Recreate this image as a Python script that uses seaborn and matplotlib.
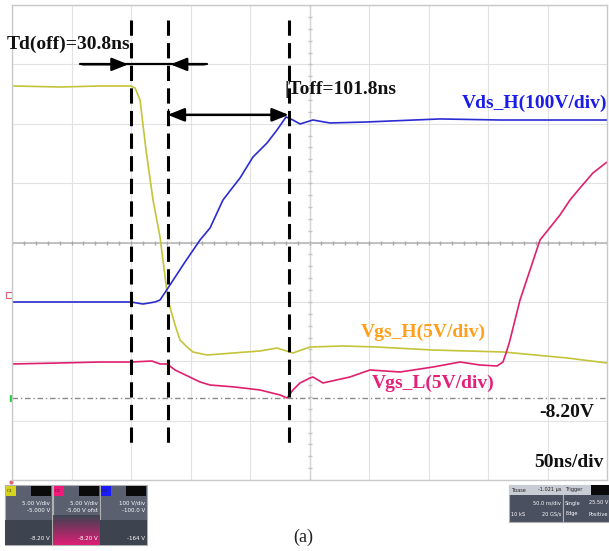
import matplotlib
matplotlib.use("Agg")
import matplotlib.pyplot as plt
import numpy as np
import pandas as pd
import seaborn as sns
from matplotlib.patches import Rectangle

# ---------------------------
# Datos (tiempo en ns, amplitud en divisiones de pantalla)
# ---------------------------
t_vgs_h = [0, 40.3, 73.9, 100.0, 103.4, 107.6, 112.6, 118.5, 124.4, 131.1, 137.0, 141.2,
           147.1, 152.1, 163.9, 185.7, 208.4, 222.7, 236.1, 250.4, 278.2, 306.7, 353.8,
           412.6, 466.4, 500.0]
v_vgs_h = [6.636, 6.619, 6.636, 6.636, 6.602, 6.400, 5.558, 4.716, 4.093, 3.032, 2.611, 2.358,
           2.240, 2.156, 2.105, 2.139, 2.173, 2.223, 2.139, 2.240, 2.257, 2.240, 2.189,
           2.156, 2.055, 1.971]

t_vds_h = [0, 40.3, 73.9, 100.0, 110.1, 120.2, 124.4, 131.1, 145.4, 158.0, 166.4, 177.3,
           185.7, 191.6, 202.5, 214.3, 222.7, 230.3, 236.1, 242.0, 252.9, 267.2, 298.3,
           359.7, 410.1, 500.0]
v_vds_h = [2.998, 2.998, 2.998, 2.998, 2.964, 2.998, 3.032, 3.234, 3.672, 4.042, 4.244, 4.716,
           4.935, 5.086, 5.440, 5.676, 5.895, 6.114, 6.063, 5.996, 6.063, 6.013, 6.030,
           6.081, 6.063, 6.063]

t_vgs_l = [0, 40.3, 73.9, 100.0, 117.6, 124.4, 130.3, 137.0, 158.0, 166.4, 187.4, 208.4,
           225.2, 231.1, 236.1, 242.0, 250.4, 252.9, 261.3, 284.0, 300.8, 326.1, 353.8,
           376.5, 393.3, 407.6, 412.6, 416.0, 418.5, 422.7, 426.9, 435.3, 443.7, 460.5,
           468.9, 477.3, 488.2, 500.0]
v_vgs_l = [1.954, 1.971, 1.987, 1.987, 2.004, 1.954, 1.954, 1.853, 1.651, 1.600, 1.566, 1.516,
           1.432, 1.381, 1.516, 1.634, 1.718, 1.735, 1.634, 1.735, 1.853, 1.819, 1.903,
           1.987, 1.937, 1.920, 1.987, 2.189, 2.358, 2.695, 3.032, 3.537, 4.042, 4.463,
           4.716, 4.918, 5.171, 5.356]

t_marcas = [100.0, 130.8, 232.6]   # cursores verticales
nivel_ref = 1.381                  # linea -8.20V

sns.set_style("white")
plt.rcParams['font.family'] = ['Liberation Serif', 'DejaVu Serif']

fig = plt.figure(figsize=(6.09, 5.51), dpi=100)

# capa de fondo en pixeles para los paneles del osciloscopio
bg = fig.add_axes([0, 0, 1, 1])
bg.set_xlim(0, 609)
bg.set_ylim(551, 0)
bg.axis('off')

ax = fig.add_axes([12 / 609, 71 / 551, 595 / 609, 475 / 551])
ax.set_xlim(0, 500)
ax.set_ylim(0, 8)
ax.set_xticks(np.arange(0, 501, 50))
ax.set_yticks(np.arange(0, 9, 1))
ax.set_xticklabels([])
ax.set_yticklabels([])
ax.tick_params(length=0)
ax.grid(True, color='#e2e2e2', lw=0.8)
for s in ax.spines.values():
    s.set_color('#c9c9c9')
    s.set_linewidth(1.0)

# ejes centrales con subdivisiones
ax.axhline(4, color='#b4b4b4', lw=1.1, zorder=1)
ax.axvline(250, color='#d4d4d4', lw=1.0, zorder=1)
ax.plot(np.arange(0, 501, 10), [4] * 51, ls='none', marker='|', ms=3, color='#a8a8a8', zorder=1)
ax.plot([250] * 41, np.arange(0, 8.01, 0.2), ls='none', marker='_', ms=3, color='#c4c4c4', zorder=1)

# linea de referencia
ax.axhline(nivel_ref, color='#8a8a8a', lw=1.0, ls=(0, (4, 2, 1, 2)), zorder=1)

df_h = pd.DataFrame({'t': t_vgs_h, 'v': v_vgs_h})
df_d = pd.DataFrame({'t': t_vds_h, 'v': v_vds_h})
df_l = pd.DataFrame({'t': t_vgs_l, 'v': v_vgs_l})
sns.lineplot(data=df_h, x='t', y='v', ax=ax, color='#c4c43a', lw=1.2, sort=False, estimator=None)
sns.lineplot(data=df_d, x='t', y='v', ax=ax, color='#2b2bd2', lw=1.2, sort=False, estimator=None)
sns.lineplot(data=df_l, x='t', y='v', ax=ax, color='#e0206e', lw=1.2, sort=False, estimator=None)
ax.set_xlabel('')
ax.set_ylabel('')

# cursores discontinuos
for tm in t_marcas:
    ax.plot([tm, tm], [7.75, 0.62], color='black', lw=2.2, ls=(0, (5, 2.4)), zorder=5)

# flechas Td(off)
ax.plot([57, 164], [7.0, 7.0], color='black', lw=1.6, zorder=6)
ax.annotate('', xy=(t_marcas[0], 7.0), xytext=(57, 7.0),
            arrowprops=dict(arrowstyle='-|>,head_length=1.0,head_width=0.4', color='black', lw=1.6))
ax.annotate('', xy=(t_marcas[1], 7.0), xytext=(164, 7.0),
            arrowprops=dict(arrowstyle='-|>,head_length=1.0,head_width=0.4', color='black', lw=1.6))
# flecha Toff
ax.annotate('', xy=(t_marcas[2], 6.15), xytext=(t_marcas[1], 6.15),
            arrowprops=dict(arrowstyle='<|-|>,head_length=1.0,head_width=0.4', color='black', lw=1.8,
                            shrinkA=0, shrinkB=0))
ax.plot([t_marcas[1], t_marcas[1]], [6.25, 6.0], color='black', lw=1.0, zorder=6)

bold = dict(fontweight='bold', fontsize=14)
ax.text(-4.2, 7.34, 'Td(off)=30.8ns', ha='left', va='center', color='#111111', clip_on=False, **bold)
ax.text(229, 6.57, '|Toff=101.8ns', ha='left', va='center', color='#111111', **bold)
ax.text(500, 6.35, 'Vds_H(100V/div)', ha='right', va='center', color='#1c1ce8', **bold)
ax.text(293, 2.49, 'Vgs_H(5V/div)', ha='left', va='center', color='#ff9f1a', **bold)
ax.text(302, 1.62, 'Vgs_L(5V/div)', ha='left', va='center', color='#e3207a', **bold)
ax.text(443, 1.145, '-8.20V', ha='left', va='center', color='#111111', **bold)
ax.text(497, 0.29, '50ns/div', ha='right', va='center', color='#111111', **bold)

# marcadores de canal a la izquierda
bg.plot([13], [398], marker='>', ms=4, color='#22cc44', zorder=3)
bg.add_patch(Rectangle((6, 292), 6, 6, fill=False, ec='#e0607a', lw=0.8))
bg.plot([11], [482], marker='o', ms=2, color='#e0607a')

# paneles de canales
canales = [('C1', '#d6d21e', '5.00 V/div', '-5.000 V', '-8.20 V'),
           ('C2', '#f01a7a', '5.00 V/div', '-5.00 V ofst', '-8.20 V'),
           ('C3', '#1a1aff', '100 V/div', '-100.0 V', '-164 V')]
x0 = 5
for i, (nom, col, l1, l2, l3) in enumerate(canales):
    xa = x0 + i * 47.5
    bg.add_patch(Rectangle((xa, 485), 47, 60, fc='#5a6070', ec='#b0b0b0', lw=0.8))
    bg.add_patch(Rectangle((xa, 520), 47, 25, fc='#3e4350', ec='none'))
    if i == 1:
        grad = np.linspace(0, 1, 30)[:, None] * np.ones((1, 10))
        bg.imshow(grad, extent=(xa, xa + 47, 545, 515), cmap=sns.blend_palette(['#3e4350', '#f01a7a'], as_cmap=True),
                  aspect='auto', alpha=0.9, zorder=2)
    bg.add_patch(Rectangle((xa + 1, 486), 10, 10, fc=col, ec='none', zorder=3))
    bg.add_patch(Rectangle((xa + 26, 486), 20, 10, fc='#0a0a0a', ec='none', zorder=3))
    bg.text(xa + 2, 491, nom, fontsize=3.5, color='#222222', va='center', zorder=4)
    bg.text(xa + 45, 503, l1, fontsize=4, color='white', ha='right', va='center', family='DejaVu Sans', zorder=4)
    bg.text(xa + 45, 511, l2, fontsize=4, color='white', ha='right', va='center', family='DejaVu Sans', zorder=4)
    bg.text(xa + 45, 539, l3, fontsize=4, color='white', ha='right', va='center', family='DejaVu Sans', zorder=4)

# paneles de base de tiempo y trigger
bg.add_patch(Rectangle((509, 485), 54, 37, fc='#4a5060', ec='#b0b0b0', lw=0.8))
bg.add_patch(Rectangle((563, 485), 46, 37, fc='#4a5060', ec='#b0b0b0', lw=0.8))
bg.add_patch(Rectangle((509, 485), 54, 10, fc='#c8ccd4', ec='none', zorder=2))
bg.add_patch(Rectangle((563, 485), 28, 10, fc='#c8ccd4', ec='none', zorder=2))
bg.add_patch(Rectangle((591, 485), 18, 10, fc='#0a0a0a', ec='none', zorder=2))
for xt, yt, txt, c, ha in [(511, 490, 'Tbase', '#222222', 'left'), (561, 490, '-1.021 μs', '#222222', 'right'),
                           (565, 490, 'Trigger', '#222222', 'left'),
                           (561, 503, '50.0 ns/div', 'white', 'right'), (565, 503, 'Single', 'white', 'left'),
                           (608, 503, '25.50 V', 'white', 'right'),
                           (511, 514, '10 kS', 'white', 'left'), (561, 514, '20 GS/s', 'white', 'right'),
                           (565, 514, 'Edge', 'white', 'left'), (608, 514, 'Positive', 'white', 'right')]:
    bg.text(xt, yt, txt, fontsize=3.6, color=c, ha=ha, va='center', family='DejaVu Sans', zorder=4)

bg.text(303, 537, '(a)', fontsize=13, ha='center', va='center', color='#222222')

fig.savefig('out.png', dpi=100)
plt.close()
